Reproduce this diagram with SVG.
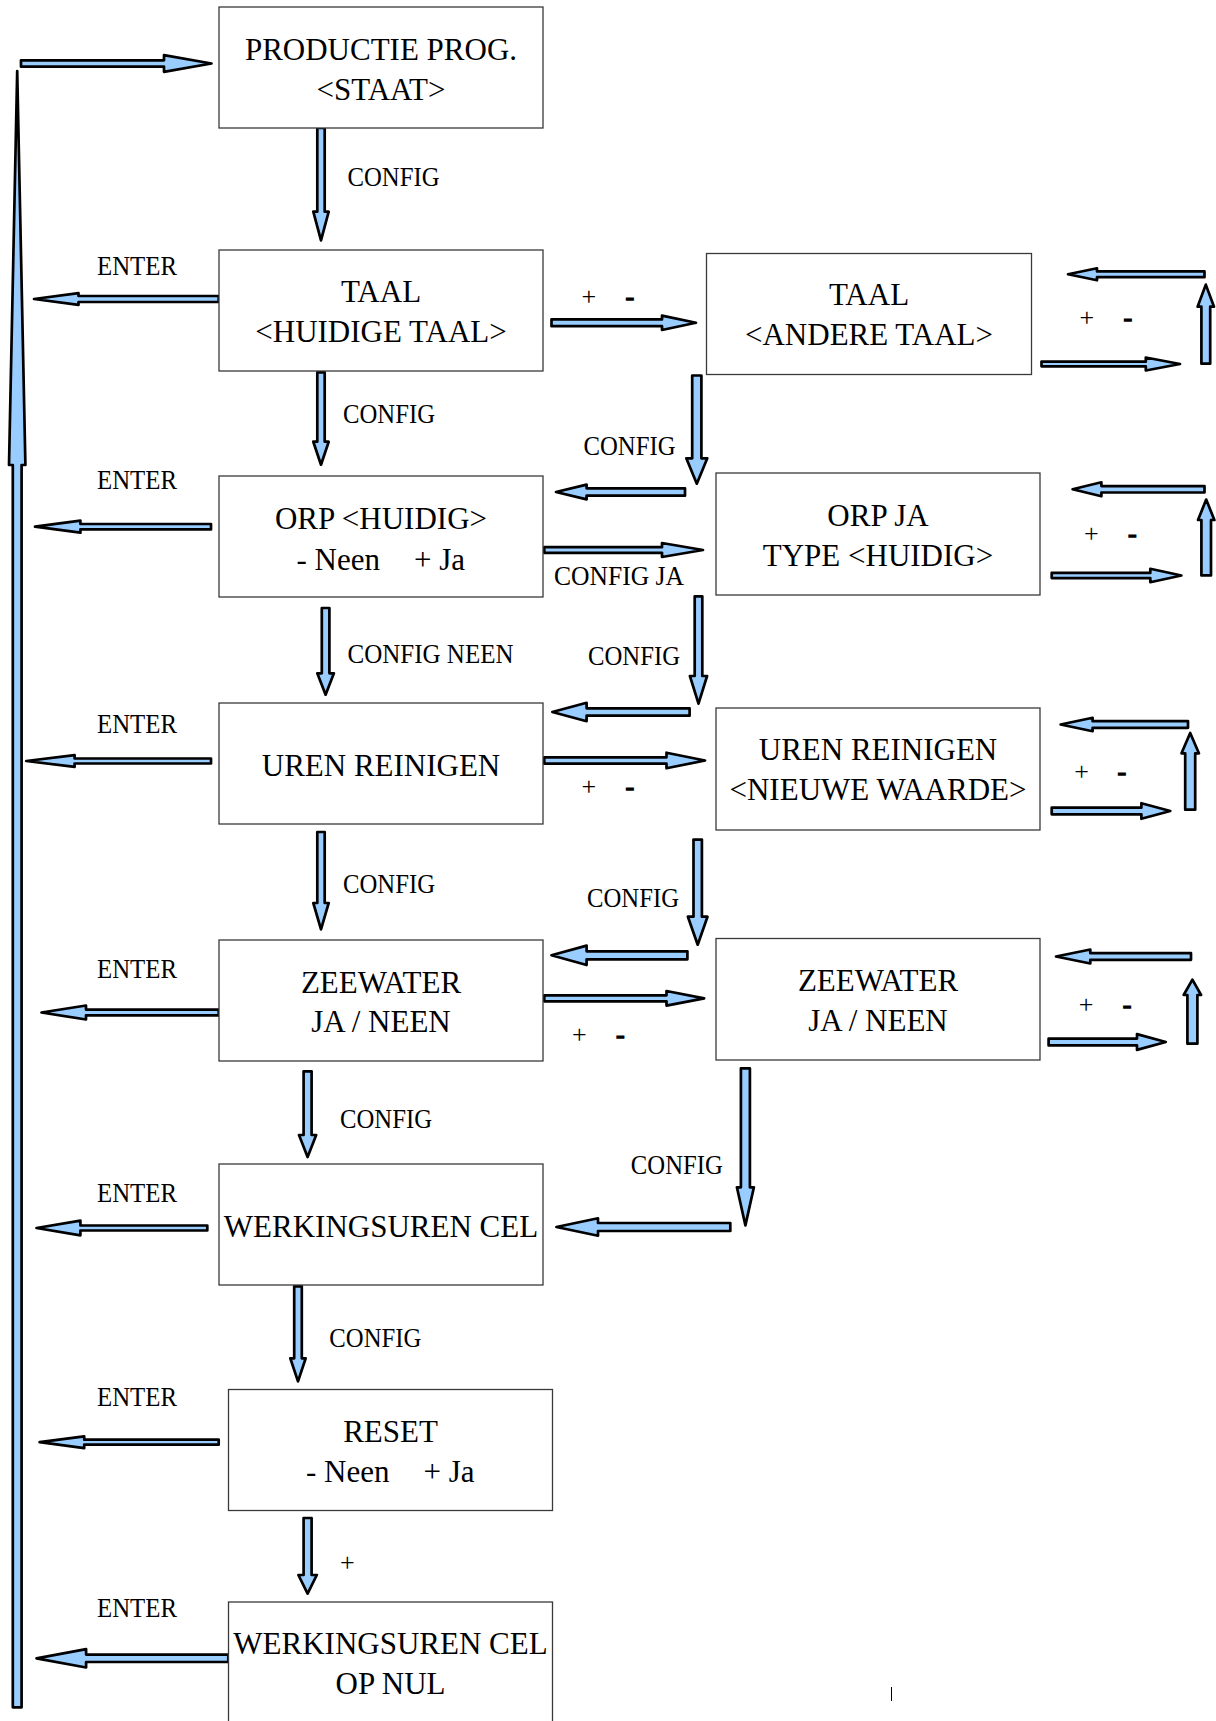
<svg xmlns="http://www.w3.org/2000/svg" width="1216" height="1721" viewBox="0 0 1216 1721">
<style>
.box{fill:#fff;stroke:#3a3a3a;stroke-width:1.3}
.t{font-family:"Liberation Serif","Times New Roman",serif;font-size:31px;fill:#000;text-anchor:middle}
.tl{font-family:"Liberation Serif","Times New Roman",serif;font-size:31px;fill:#000}
.lb{font-family:"Liberation Serif","Times New Roman",serif;font-size:27px;fill:#000}
.pm{font-family:"Liberation Serif","Times New Roman",serif;font-size:26px;fill:#000}
.dash{font-family:"Liberation Serif","Times New Roman",serif;font-size:26px;fill:#000;stroke:#000;stroke-width:1.3}
.ar{fill:#99ccff;stroke:#000;stroke-width:2.7;stroke-linejoin:round}
</style>
<rect width="1216" height="1721" fill="#fff"/>

<g id="connectors">
<path class="ar" d="M21,60.3 H164 V55.2 L211.5,63.5 L164,71.8 V66.7 H21 Z"/>
<path class="ar" d="M12.8,1707.3 V465 H9 L17.2,71 L25.4,465 H21.6 V1707.3 Z"/>
<path class="ar" d="M317.3,128 V211.7 H313.3 L321,240.4 L328.7,211.7 H324.7 V128 Z"/>
<path class="ar" d="M218.7,296 H78.5 V293.2 L34,299 L78.5,304.8 V302 H218.7 Z"/>
<path class="ar" d="M551.5,319.4 H662 V315.6 L696,322.8 L662,330 V326.2 H551.5 Z"/>
<path class="ar" d="M1204.5,271.4 H1097 V268.3 L1068,274.3 L1097,280.3 V277.2 H1204.5 Z"/>
<path class="ar" d="M1201.4,363.7 V306.7 H1197.6 L1205.8,284.6 L1214,306.7 H1210.2 V363.7 Z"/>
<path class="ar" d="M1041.5,361.7 H1145.8 V357.5 L1180,364 L1145.8,370.5 V366.3 H1041.5 Z"/>
<path class="ar" d="M692.2,375.5 V458.3 H686.3 L696.8,483.7 L707.3,458.3 H701.4 V375.5 Z"/>
<path class="ar" d="M685,488.3 H586.6 V484.6 L556,492 L586.6,499.4 V495.7 H685 Z"/>
<path class="ar" d="M317.3,372.3 V441.7 H313.3 L321,464.7 L328.7,441.7 H324.7 V372.3 Z"/>
<path class="ar" d="M211,524 H80.4 V520.7 L35,526.7 L80.4,532.7 V529.4 H211 Z"/>
<path class="ar" d="M544.3,547.2 H662 V543 L703,550 L662,557 V552.8 H544.3 Z"/>
<path class="ar" d="M1204.5,486.1 H1101.4 V482.3 L1072.6,489.3 L1101.4,496.3 V492.5 H1204.5 Z"/>
<path class="ar" d="M1201.4,575.4 V520 H1198 L1206.2,499.6 L1214.4,520 H1211 V575.4 Z"/>
<path class="ar" d="M1051.7,572.9 H1150.3 V568.8 L1181.4,575.5 L1150.3,582.2 V578.1 H1051.7 Z"/>
<path class="ar" d="M694.7,596.3 V676 H689.9 L698.5,703.7 L707.1,676 H702.3 V596.3 Z"/>
<path class="ar" d="M689.6,708.3 H586.6 V702.8 L552.3,712 L586.6,721.2 V715.7 H689.6 Z"/>
<path class="ar" d="M321.8,608 V673.3 H317.3 L325.6,694.7 L333.9,673.3 H329.4 V608 Z"/>
<path class="ar" d="M211,758.5 H74.6 V755.1 L26.2,761 L74.6,766.9 V763.5 H211 Z"/>
<path class="ar" d="M544.3,757.3 H666.5 V752.7 L705,760.5 L666.5,768.3 V763.7 H544.3 Z"/>
<path class="ar" d="M1188,721.2 H1092.6 V717.8 L1060.6,724.5 L1092.6,731.2 V727.8 H1188 Z"/>
<path class="ar" d="M1185.2,809.7 V753.3 H1181.5 L1190.2,733 L1198.9,753.3 H1195.2 V809.7 Z"/>
<path class="ar" d="M1051.7,807.7 H1141.4 V803.2 L1170.3,811 L1141.4,818.8 V814.3 H1051.7 Z"/>
<path class="ar" d="M693.5,839.6 V916.7 H687.9 L697.7,944.7 L707.5,916.7 H701.9 V839.6 Z"/>
<path class="ar" d="M687.4,951.3 H586.6 V945.6 L551.5,955.3 L586.6,965 V959.3 H687.4 Z"/>
<path class="ar" d="M317.3,832 V903 H313.3 L321,929.4 L328.7,903 H324.7 V832 Z"/>
<path class="ar" d="M218.7,1009.6 H86 V1005.5 L41.5,1012.5 L86,1019.5 V1015.4 H218.7 Z"/>
<path class="ar" d="M544.3,995.3 H666.5 V991 L704.2,998.3 L666.5,1005.6 V1001.3 H544.3 Z"/>
<path class="ar" d="M1191,953.2 H1090.3 V949.5 L1056,956.5 L1090.3,963.5 V959.8 H1191 Z"/>
<path class="ar" d="M1187.4,1043.7 V995 H1183.7 L1192.4,979.6 L1201.1,995 H1197.4 V1043.7 Z"/>
<path class="ar" d="M1048.6,1038.6 H1137 V1034.1 L1165.8,1042 L1137,1049.9 V1045.4 H1048.6 Z"/>
<path class="ar" d="M740.9,1068.4 V1187.3 H736.9 L745.4,1225.4 L753.9,1187.3 H749.9 V1068.4 Z"/>
<path class="ar" d="M730.3,1223 H598 V1218.3 L556.4,1227 L598,1235.7 V1231 H730.3 Z"/>
<path class="ar" d="M303.6,1071.3 V1135 H299 L307.6,1157 L316.2,1135 H311.6 V1071.3 Z"/>
<path class="ar" d="M207.3,1225.5 H80.4 V1220.6 L36.5,1228 L80.4,1235.4 V1230.5 H207.3 Z"/>
<path class="ar" d="M294.2,1286.3 V1358.3 H290.3 L298,1381.4 L305.7,1358.3 H301.8 V1286.3 Z"/>
<path class="ar" d="M218.7,1439.7 H84.2 V1436.3 L39.6,1442.2 L84.2,1448.1 V1444.7 H218.7 Z"/>
<path class="ar" d="M303.6,1518 V1575 H298.4 L307.6,1593.7 L316.8,1575 H311.6 V1518 Z"/>
<path class="ar" d="M228.3,1654.6 H86.1 V1649.1 L36.5,1658.3 L86.1,1667.5 V1662 H228.3 Z"/>
</g>

<g id="labels">
<text class="lb" x="347.5" y="186" textLength="92" lengthAdjust="spacingAndGlyphs">CONFIG</text>
<text class="lb" x="97" y="275" textLength="80" lengthAdjust="spacingAndGlyphs">ENTER</text>
<text class="pm" x="581.5" y="304.5">+</text>
<text class="dash" x="625.5" y="304.5">-</text>
<text class="pm" x="1079.5" y="326">+</text>
<text class="dash" x="1123.5" y="326">-</text>
<text class="lb" x="583.5" y="455" textLength="92" lengthAdjust="spacingAndGlyphs">CONFIG</text>
<text class="lb" x="343" y="422.5" textLength="92" lengthAdjust="spacingAndGlyphs">CONFIG</text>
<text class="lb" x="97" y="489.3" textLength="80" lengthAdjust="spacingAndGlyphs">ENTER</text>
<text class="lb" x="554" y="585" textLength="130" lengthAdjust="spacingAndGlyphs">CONFIG JA</text>
<text class="pm" x="1084" y="542">+</text>
<text class="dash" x="1128" y="542">-</text>
<text class="lb" x="347.5" y="663.3" textLength="166" lengthAdjust="spacingAndGlyphs">CONFIG NEEN</text>
<text class="lb" x="588" y="665" textLength="92" lengthAdjust="spacingAndGlyphs">CONFIG</text>
<text class="lb" x="97" y="733.3" textLength="80" lengthAdjust="spacingAndGlyphs">ENTER</text>
<text class="pm" x="581.5" y="795">+</text>
<text class="dash" x="625.5" y="795">-</text>
<text class="pm" x="1074.3" y="780">+</text>
<text class="dash" x="1117.5" y="780">-</text>
<text class="lb" x="343" y="892.7" textLength="92" lengthAdjust="spacingAndGlyphs">CONFIG</text>
<text class="lb" x="587" y="906.7" textLength="92" lengthAdjust="spacingAndGlyphs">CONFIG</text>
<text class="lb" x="97" y="978.3" textLength="80" lengthAdjust="spacingAndGlyphs">ENTER</text>
<text class="pm" x="572" y="1043">+</text>
<text class="dash" x="616" y="1043">-</text>
<text class="pm" x="1078.8" y="1013">+</text>
<text class="dash" x="1122.8" y="1013">-</text>
<text class="lb" x="340" y="1128.3" textLength="92" lengthAdjust="spacingAndGlyphs">CONFIG</text>
<text class="lb" x="630.8" y="1174" textLength="92" lengthAdjust="spacingAndGlyphs">CONFIG</text>
<text class="lb" x="97" y="1201.7" textLength="80" lengthAdjust="spacingAndGlyphs">ENTER</text>
<text class="lb" x="329.3" y="1346.7" textLength="92" lengthAdjust="spacingAndGlyphs">CONFIG</text>
<text class="lb" x="97" y="1406" textLength="80" lengthAdjust="spacingAndGlyphs">ENTER</text>
<text class="pm" x="340" y="1571">+</text>
<text class="lb" x="97" y="1617.3" textLength="80" lengthAdjust="spacingAndGlyphs">ENTER</text>
</g>

<g id="node-productie">
<rect class="box" x="219" y="7" width="324" height="121"/>
<text class="t" x="381" y="60">PRODUCTIE PROG.</text>
<text class="t" x="381" y="99.5">&lt;STAAT&gt;</text>
</g>
<g id="node-taal">
<rect class="box" x="219" y="250" width="324" height="121"/>
<text class="t" x="381" y="301.7">TAAL</text>
<text class="t" x="381" y="341.7">&lt;HUIDIGE TAAL&gt;</text>
</g>
<g id="node-taal-andere">
<rect class="box" x="706.5" y="253.5" width="325" height="121"/>
<text class="t" x="869" y="305">TAAL</text>
<text class="t" x="869" y="345">&lt;ANDERE TAAL&gt;</text>
</g>
<g id="node-orp">
<rect class="box" x="219" y="476" width="324" height="121"/>
<text class="t" x="381" y="529.3">ORP &lt;HUIDIG&gt;</text>
<text class="tl" x="296.5" y="570">- Neen</text>
<text class="tl" x="414" y="570">+ Ja</text>
</g>
<g id="node-orp-ja">
<rect class="box" x="716" y="473" width="324" height="122"/>
<text class="t" x="878" y="526">ORP JA</text>
<text class="t" x="878" y="566">TYPE &lt;HUIDIG&gt;</text>
</g>
<g id="node-uren">
<rect class="box" x="219" y="703" width="324" height="121"/>
<text class="t" x="381" y="775.7">UREN REINIGEN</text>
</g>
<g id="node-uren-nieuw">
<rect class="box" x="716" y="708" width="324" height="122"/>
<text class="t" x="878" y="760">UREN REINIGEN</text>
<text class="t" x="878" y="800">&lt;NIEUWE WAARDE&gt;</text>
</g>
<g id="node-zeewater">
<rect class="box" x="219" y="940" width="324" height="121"/>
<text class="t" x="381" y="992.7">ZEEWATER</text>
<text class="t" x="381" y="1032.3">JA / NEEN</text>
</g>
<g id="node-zeewater-keuze">
<rect class="box" x="716" y="938.5" width="324" height="121.5"/>
<text class="t" x="878" y="991">ZEEWATER</text>
<text class="t" x="878" y="1031">JA / NEEN</text>
</g>
<g id="node-werkingsuren">
<rect class="box" x="219" y="1164" width="324" height="121"/>
<text class="t" x="381" y="1236.7">WERKINGSUREN CEL</text>
</g>
<g id="node-reset">
<rect class="box" x="228.5" y="1389.5" width="324" height="121"/>
<text class="t" x="390.5" y="1441.7">RESET</text>
<text class="tl" x="306" y="1481.7">- Neen</text>
<text class="tl" x="423.5" y="1481.7">+ Ja</text>
</g>
<g id="node-werkingsuren-nul">
<rect class="box" x="228.5" y="1602" width="324" height="121"/>
<text class="t" x="390.5" y="1654">WERKINGSUREN CEL</text>
<text class="t" x="390.5" y="1694">OP NUL</text>
</g>

<line x1="891.5" y1="1687" x2="891.5" y2="1701" stroke="#000" stroke-width="1"/>
</svg>
